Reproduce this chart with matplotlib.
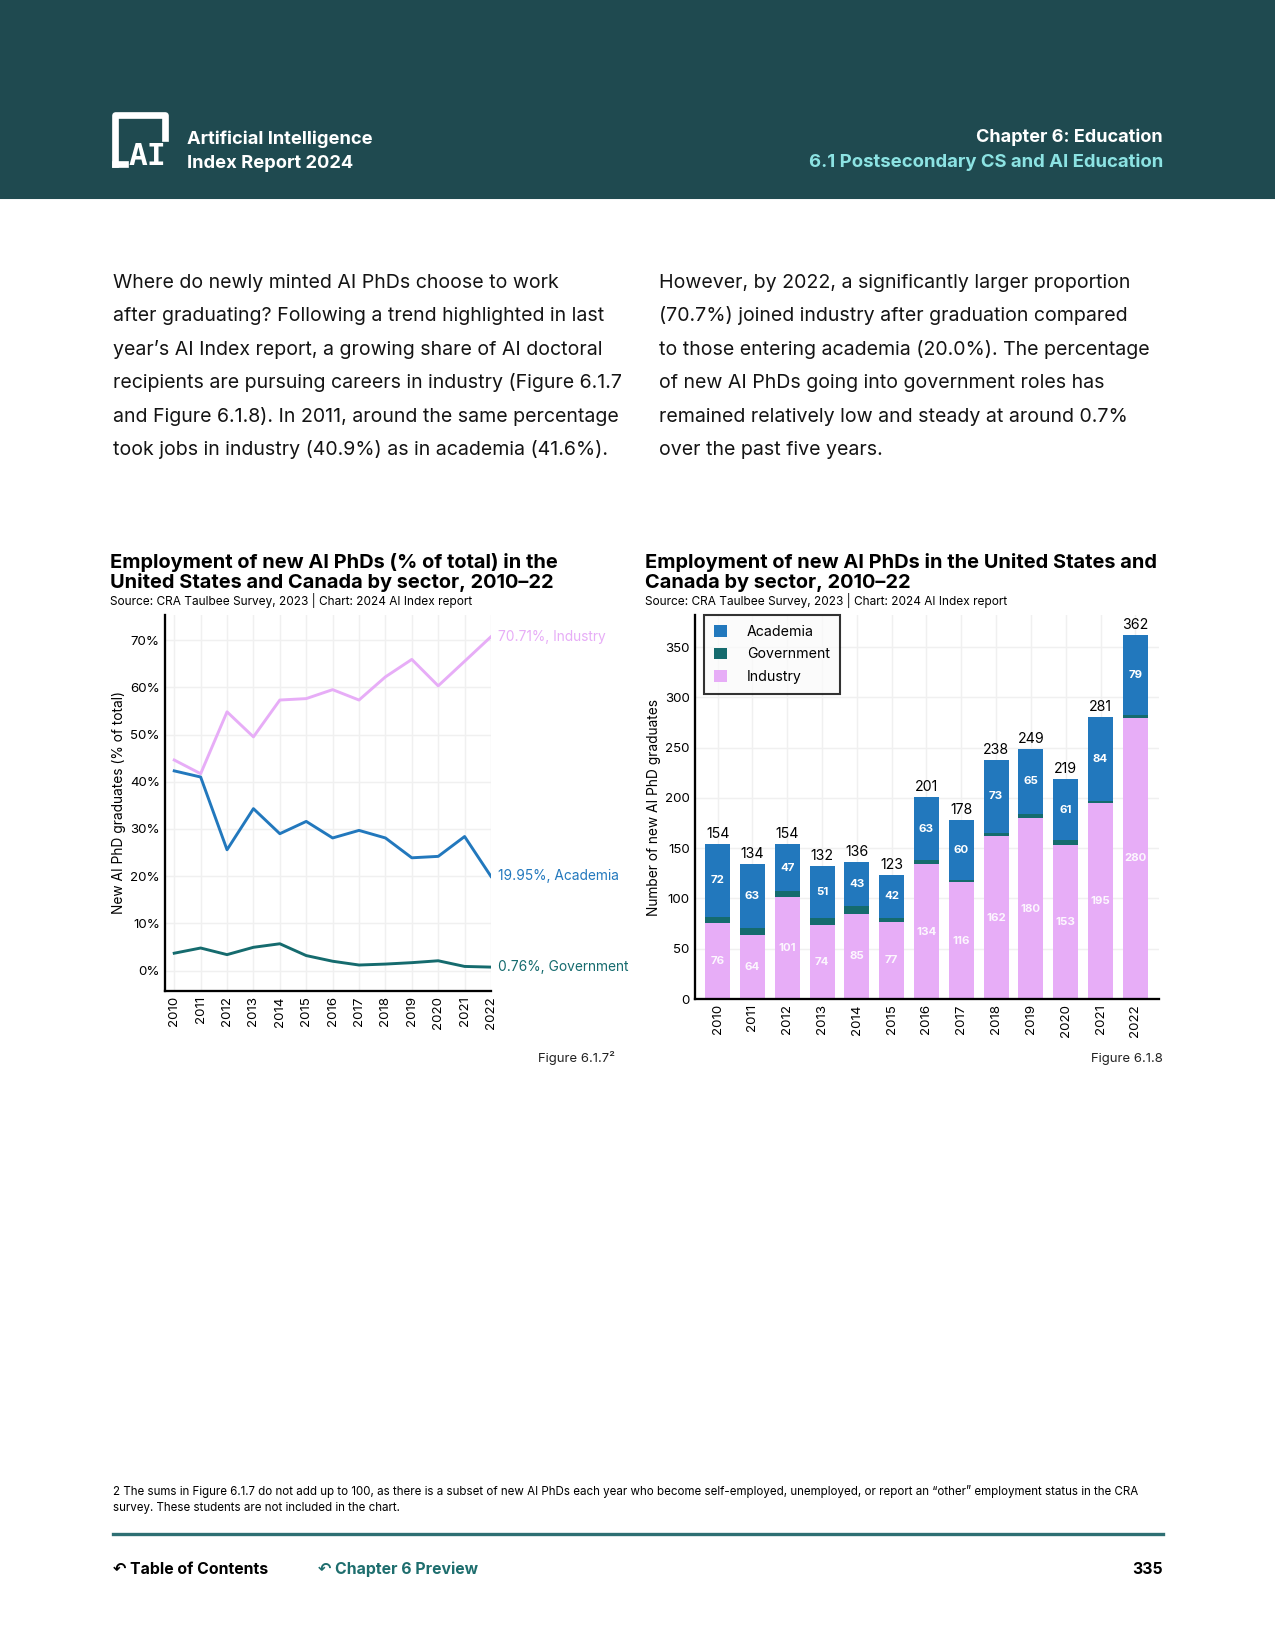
import matplotlib.pyplot as plt
import numpy as np
from matplotlib.patches import Rectangle
from matplotlib.lines import Line2D

plt.rcParams["font.family"] = ["Inter", "DejaVu Sans"]

# === Data ===
years = [2010, 2011, 2012, 2013, 2014, 2015, 2016, 2017, 2018, 2019, 2020, 2021, 2022]

# Figure 6.1.7 - share of new AI PhDs (% of total)
pct_industry = [44.6, 41.7, 54.8, 49.5, 57.3, 57.6, 59.5, 57.3, 62.2, 65.9, 60.3, 65.5, 70.71]
pct_academia = [42.3, 41.0, 25.6, 34.3, 29.0, 31.6, 28.1, 29.7, 28.1, 23.9, 24.2, 28.4, 19.95]
pct_government = [3.7, 4.8, 3.4, 4.95, 5.7, 3.2, 2.0, 1.2, 1.4, 1.7, 2.1, 0.9, 0.76]

# Figure 6.1.8 - number of new AI PhDs
n_industry = [76, 64, 101, 74, 85, 77, 134, 116, 162, 180, 153, 195, 280]
n_academia = [72, 63, 47, 51, 43, 42, 63, 60, 73, 65, 61, 84, 79]
n_total = [154, 134, 154, 132, 136, 123, 201, 178, 238, 249, 219, 281, 362]

# colours
C_IND = "#E7ADF7"
C_ACA = "#2278BD"
C_GOV = "#156B6E"
C_HEAD = "#1F4A50"
C_CYAN = "#8CE3E3"
C_GRID = "#F0F0F0"

W, H = 1275, 1650
fig = plt.figure(figsize=(W / 150, H / 150), dpi=150)


def fx(x):
    return x / W


def fy(y):
    return 1 - y / H


def txt(x, y, s, **kw):
    fig.text(fx(x), fy(y), s, **kw)


# === Header band ===
fig.patches.append(Rectangle((0, fy(198)), 1, 198 / H, transform=fig.transFigure,
                             color=C_HEAD, zorder=0))
# logo
lx = [fx(115), fx(115), fx(165), fx(165)]
ly = [fy(164), fy(115), fy(115), fy(138)]
fig.lines.append(Line2D(lx, ly, transform=fig.transFigure, color="white", lw=3.2))
fig.lines.append(Line2D([fx(115), fx(125)], [fy(164), fy(164)], transform=fig.transFigure,
                        color="white", lw=3.2))
txt(147, 165, "AI", color="white", fontsize=15, fontweight="bold", ha="center", va="baseline",
    family=["DejaVu Sans Mono", "DejaVu Sans"])
txt(187, 144, "Artificial Intelligence", color="white", fontsize=8.8, fontweight="bold", va="baseline")
txt(187, 168, "Index Report 2024", color="white", fontsize=8.8, fontweight="bold", va="baseline")
txt(1163, 142, "Chapter 6: Education", color="white", fontsize=8.7, fontweight="bold",
    ha="right", va="baseline")
txt(1163, 167, "6.1 Postsecondary CS and AI Education", color=C_CYAN, fontsize=8.9,
    fontweight="bold", ha="right", va="baseline")

# === Body text ===
left_par = [
    "Where do newly minted AI PhDs choose to work",
    "after graduating? Following a trend highlighted in last",
    "year\u2019s AI Index report, a growing share of AI doctoral",
    "recipients are pursuing careers in industry (Figure 6.1.7",
    "and Figure 6.1.8). In 2011, around the same percentage",
    "took jobs in industry (40.9%) as in academia (41.6%).",
]
right_par = [
    "However, by 2022, a significantly larger proportion",
    "(70.7%) joined industry after graduation compared",
    "to those entering academia (20.0%). The percentage",
    "of new AI PhDs going into government roles has",
    "remained relatively low and steady at around 0.7%",
    "over the past five years.",
]
for i, line in enumerate(left_par):
    txt(113, 288 + i * 33.4, line, fontsize=9.4, color="#141414", va="baseline")
for i, line in enumerate(right_par):
    txt(659, 288 + i * 33.4, line, fontsize=9.4, color="#141414", va="baseline")

# === Left chart: share by sector ===
txt(110, 568, "Employment of new AI PhDs (% of total) in the", fontsize=9.6,
    fontweight="bold", va="baseline")
txt(110, 588, "United States and Canada by sector, 2010\u201322", fontsize=9.6,
    fontweight="bold", va="baseline")
txt(110, 605, "Source: CRA Taulbee Survey, 2023 | Chart: 2024 AI Index report", fontsize=5.7,
    va="baseline")

ax1 = fig.add_axes([fx(165), fy(991), fx(491) - fx(165), fy(615) - fy(991)])
ax1.plot(years, pct_industry, color=C_IND, lw=1.4)
ax1.plot(years, pct_academia, color=C_ACA, lw=1.4)
ax1.plot(years, pct_government, color=C_GOV, lw=1.4)
ax1.set_xlim(2009.65, 2022)
ax1.set_ylim(-4.3, 75.3)
ax1.set_yticks(range(0, 80, 10))
ax1.set_yticklabels([f"{v}%" for v in range(0, 80, 10)])
ax1.set_xticks(years)
ax1.set_xticklabels([str(y) for y in years], rotation=90)
ax1.grid(color=C_GRID, lw=0.7)
ax1.set_axisbelow(True)
for s in ["top", "right"]:
    ax1.spines[s].set_visible(False)
for s in ["left", "bottom"]:
    ax1.spines[s].set_linewidth(1.1)
ax1.tick_params(length=0, labelsize=6.4, pad=2.5)
ax1.set_ylabel("New AI PhD graduates (% of total)", fontsize=6.6, labelpad=2)
ax1.text(1.02, pct_industry[-1], "70.71%, Industry", color=C_IND, fontsize=6.6,
         va="center", transform=ax1.get_yaxis_transform(), clip_on=False)
ax1.text(1.02, pct_academia[-1], "19.95%, Academia", color=C_ACA, fontsize=6.6,
         va="center", transform=ax1.get_yaxis_transform(), clip_on=False)
ax1.text(1.02, pct_government[-1], "0.76%, Government", color=C_GOV, fontsize=6.6,
         va="center", transform=ax1.get_yaxis_transform(), clip_on=False)
txt(615, 1062, "Figure 6.1.7\u00b2", fontsize=6.3, ha="right", va="baseline", color="#222222")

# === Right chart: counts by sector ===
txt(645, 568, "Employment of new AI PhDs in the United States and", fontsize=9.6,
    fontweight="bold", va="baseline")
txt(645, 588, "Canada by sector, 2010\u201322", fontsize=9.6, fontweight="bold", va="baseline")
txt(645, 605, "Source: CRA Taulbee Survey, 2023 | Chart: 2024 AI Index report", fontsize=5.7,
    va="baseline")

n_government = [t - i - a for t, i, a in zip(n_total, n_industry, n_academia)]
ax2 = fig.add_axes([fx(695), fy(999), fx(1159) - fx(695), fy(615) - fy(999)])
xpos = np.arange(len(years))
bw = 0.72
ax2.bar(xpos, n_industry, bw, color=C_IND, label="Industry", zorder=2)
ax2.bar(xpos, n_government, bw, bottom=n_industry, color=C_GOV, label="Government", zorder=2)
bot_a = [i + g for i, g in zip(n_industry, n_government)]
ax2.bar(xpos, n_academia, bw, bottom=bot_a, color=C_ACA, label="Academia", zorder=2)
for k in range(len(years)):
    ax2.text(xpos[k], n_industry[k] / 2, str(n_industry[k]), ha="center", va="center",
             color="white", fontsize=5.5, fontweight="bold", alpha=0.9, zorder=3)
    ax2.text(xpos[k], bot_a[k] + n_academia[k] / 2, str(n_academia[k]), ha="center",
             va="center", color="white", fontsize=5.5, fontweight="bold", zorder=3)
    ax2.text(xpos[k], n_total[k] + 3, str(n_total[k]), ha="center", va="bottom",
             color="black", fontsize=6.8, zorder=3)
ax2.set_xlim(-0.65, 12.68)
ax2.set_ylim(0, 382)
ax2.set_yticks(range(0, 351, 50))
ax2.set_xticks(xpos)
ax2.set_xticklabels([str(y) for y in years], rotation=90)
ax2.grid(color=C_GRID, lw=0.7, zorder=0)
ax2.set_axisbelow(True)
for s in ["top", "right"]:
    ax2.spines[s].set_visible(False)
for s in ["left", "bottom"]:
    ax2.spines[s].set_linewidth(1.1)
ax2.tick_params(length=0, labelsize=6.4, pad=2.5)
ax2.set_ylabel("Number of new AI PhD graduates", fontsize=6.6, labelpad=2)
handles, labels = ax2.get_legend_handles_labels()
leg = ax2.legend(handles[::-1], labels[::-1], loc="upper left", bbox_to_anchor=(0.02, 1.0),
                 borderaxespad=0, fontsize=6.8, frameon=True, fancybox=False,
                 edgecolor="black", handlelength=0.9, handleheight=0.9, borderpad=0.7,
                 labelspacing=0.6, handletextpad=1.4)
leg.get_frame().set_linewidth(1.0)
leg.get_frame().set_facecolor("#FAFAFA")
txt(1163, 1062, "Figure 6.1.8", fontsize=6.3, ha="right", va="baseline", color="#222222")

# === Footnote and footer ===
txt(113, 1495, "2 The sums in Figure 6.1.7 do not add up to 100, as there is a subset of new AI PhDs "
    "each year who become self-employed, unemployed, or report an \u201cother\u201d employment "
    "status in the CRA", fontsize=5.55, va="baseline")
txt(113, 1511, "survey. These students are not included in the chart.", fontsize=5.55,
    va="baseline")
fig.lines.append(Line2D([fx(113), fx(1163)], [fy(1534), fy(1534)], transform=fig.transFigure,
                        color="#2E6F73", lw=1.6))
txt(113, 1574, "\u21b6 Table of Contents", fontsize=7.6, fontweight="bold", va="baseline",
    family=["Inter", "DejaVu Sans"])
txt(318, 1574, "\u21b6 Chapter 6 Preview", fontsize=7.6, fontweight="bold", va="baseline",
    color="#1E6E6E", family=["Inter", "DejaVu Sans"])
txt(1163, 1574, "335", fontsize=7.6, fontweight="bold", ha="right", va="baseline")

fig.savefig("out.png", dpi=150)
